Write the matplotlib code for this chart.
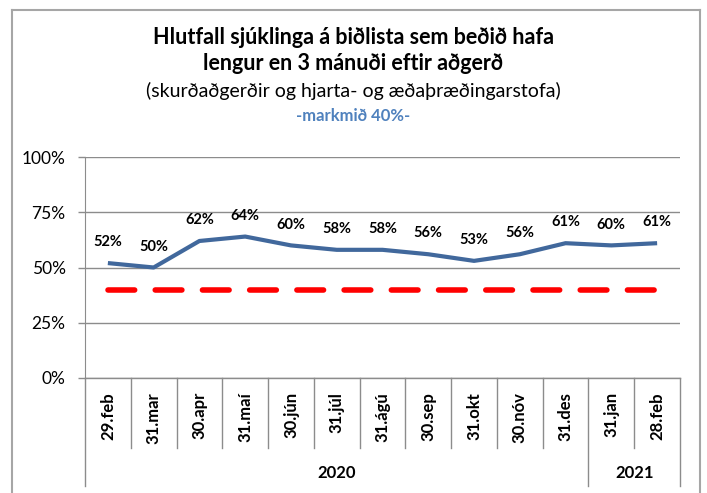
import matplotlib.pyplot as plt
import matplotlib.transforms as mtransforms
from matplotlib.lines import Line2D

plt.rcParams['font.family'] = ['Lato', 'DejaVu Sans']

# Data
months = ['29.feb', '31.mar', '30.apr', '31.maí', '30.jún', '31.júl', '31.ágú',
          '30.sep', '31.okt', '30.nóv', '31.des', '31.jan', '28.feb']
years = ['2020', '2021']
year_counts = [11, 2]
hlutfall = [52, 50, 62, 64, 60, 58, 58, 56, 53, 56, 61, 60, 61]
markmid = [40] * len(months)

W, H = 707, 493
fig = plt.figure(figsize=(W / 100, H / 100), dpi=100)

# plot area in pixels
L, R, T, B = 85, 680, 157, 378
ax = fig.add_axes([L / W, 1 - B / H, (R - L) / W, (B - T) / H])

x = [i + 0.5 for i in range(len(months))]
ax.plot(x, hlutfall, color='#41689c', lw=3, solid_capstyle='butt', zorder=3)
ax.plot(x, markmid, color='#ff0000', lw=4, ls=(0, (4.8, 3.7)), dash_capstyle='round', zorder=3)

for xi, v in zip(x, hlutfall):
    ax.annotate(f'{v}%', (xi, v), xytext=(0, 10), textcoords='offset points',
                ha='center', va='bottom', fontsize=10.5, fontweight='bold')

ax.set_xlim(0, len(months))
ax.set_ylim(0, 100)
ax.set_yticks([0, 25, 50, 75, 100])
ax.set_yticklabels([f'{t}%' for t in [0, 25, 50, 75, 100]], fontsize=12.5)
ax.yaxis.grid(True, color='#8c8c8c', lw=1)
ax.set_axisbelow(True)
ax.set_xticks([])
ax.tick_params(axis='y', length=5, width=1, color='#8c8c8c', pad=9)
for s in ['top', 'right', 'bottom']:
    ax.spines[s].set_visible(False)
ax.spines['left'].set_color('#8c8c8c')

# category axis: boundaries and labels
trans = mtransforms.blended_transform_factory(ax.transData, ax.transAxes)
depth_month = (448 - B) / (B - T)
depth_year = (486 - B) / (B - T)
ax.plot([0, len(months)], [0, 0], color='#8c8c8c', lw=1, transform=trans, clip_on=False)
bounds = [0]
for c in year_counts:
    bounds.append(bounds[-1] + c)
for i in range(len(months) + 1):
    d = depth_year if i in bounds else depth_month
    ax.plot([i, i], [0, -d], color='#8c8c8c', lw=1, transform=trans, clip_on=False)
for xi, m in zip(x, months):
    ax.text(xi, -14 / (B - T), m, rotation=90, ha='center', va='top', fontsize=12,
            fontweight='bold', transform=trans)
for yr, a, b in zip(years, bounds[:-1], bounds[1:]):
    ax.text((a + b) / 2, -(473 - B) / (B - T), yr, ha='center', va='center',
            fontsize=12, fontweight='bold', transform=trans)

# titles
fig.text(0.5, 1 - 38 / H, 'Hlutfall sjúklinga á biðlista sem beðið hafa',
         ha='center', va='center', fontsize=15.5, fontweight='bold')
fig.text(0.5, 1 - 64 / H, 'lengur en 3 mánuði eftir aðgerð',
         ha='center', va='center', fontsize=15.5, fontweight='bold')
fig.text(0.5, 1 - 91 / H, '(skurðaðgerðir og hjarta- og æðaþræðingarstofa)',
         ha='center', va='center', fontsize=14)
fig.text(0.5, 1 - 116 / H, '-markmið 40%-',
         ha='center', va='center', fontsize=12, fontweight='bold', color='#4f81bd')

# outer chart border
bc = '#a6a6a6'
fig.add_artist(Line2D([12 / W, 12 / W], [0, 1 - 10 / H], color=bc, lw=1.5))
fig.add_artist(Line2D([700 / W, 700 / W], [0, 1 - 10 / H], color=bc, lw=1.5))
fig.add_artist(Line2D([12 / W, 700 / W], [1 - 10 / H, 1 - 10 / H], color=bc, lw=1.5))

fig.savefig('out.png', dpi=100)
